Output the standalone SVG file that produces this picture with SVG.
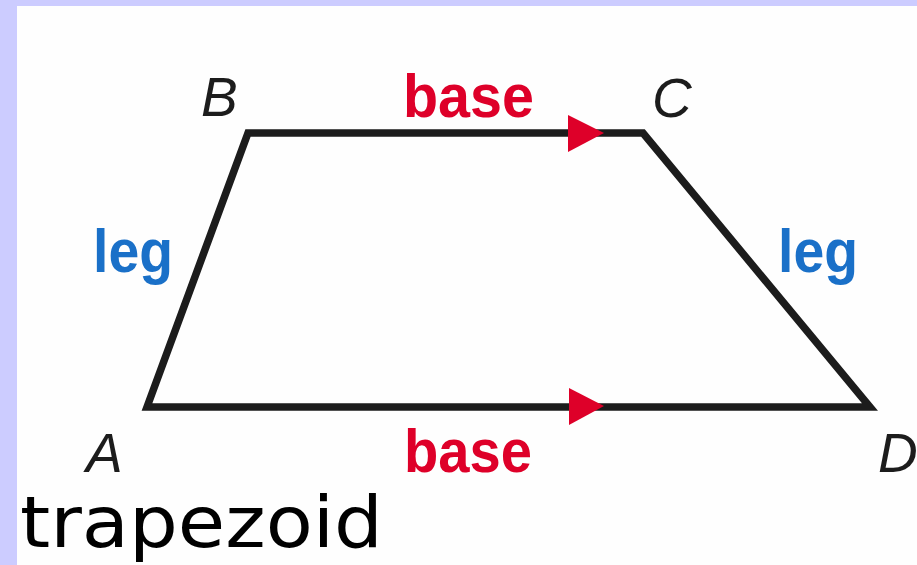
<svg xmlns="http://www.w3.org/2000/svg" width="917" height="565" viewBox="0 0 917 565">
<style>
.red{fill:#de0029;font-family:"Liberation Sans",Arial,sans-serif;font-weight:bold;font-size:62px}
.blue{fill:#1a70c8;font-family:"Liberation Sans",Arial,sans-serif;font-weight:bold;font-size:62px}
.vtx{fill:#1c1c1c;font-family:"Liberation Sans",Arial,sans-serif;font-style:italic;font-size:55px}
.title{fill:#000;font-family:"DejaVu Sans",sans-serif;font-size:72px}
.arrow{fill:#de0029}
</style>
<rect x="0" y="0" width="917" height="565" fill="#ccccff"/>
<rect x="17" y="6" width="900" height="559" fill="#fefefe"/>
<g id="connectors">
<path d="M147,407 L248,133 L643,133 L870,407 Z" fill="none" stroke="#1c1c1c" stroke-width="7.5" stroke-linejoin="miter"/>
<polygon class="arrow" points="568,115 604,133 568,152"/>
<polygon class="arrow" points="569,388 604,406 569,425"/>
</g>
<g id="label-base-top"><text class="red" x="403" y="117" textLength="131" lengthAdjust="spacingAndGlyphs">base</text></g>
<g id="label-base-bottom"><text class="red" x="404" y="472" textLength="128" lengthAdjust="spacingAndGlyphs">base</text></g>
<g id="label-leg-left"><text class="blue" x="93" y="272" textLength="80" lengthAdjust="spacingAndGlyphs">leg</text></g>
<g id="label-leg-right"><text class="blue" x="778" y="272" textLength="80" lengthAdjust="spacingAndGlyphs">leg</text></g>
<g id="node-B"><text class="vtx" x="201" y="116">B</text></g>
<g id="node-C"><text class="vtx" x="652" y="117">C</text></g>
<g id="node-A"><text class="vtx" x="86" y="472">A</text></g>
<g id="node-D"><text class="vtx" x="878" y="472">D</text></g>
<g id="title"><text class="title" x="20" y="547" textLength="363" lengthAdjust="spacingAndGlyphs">trapezoid</text></g>
</svg>
